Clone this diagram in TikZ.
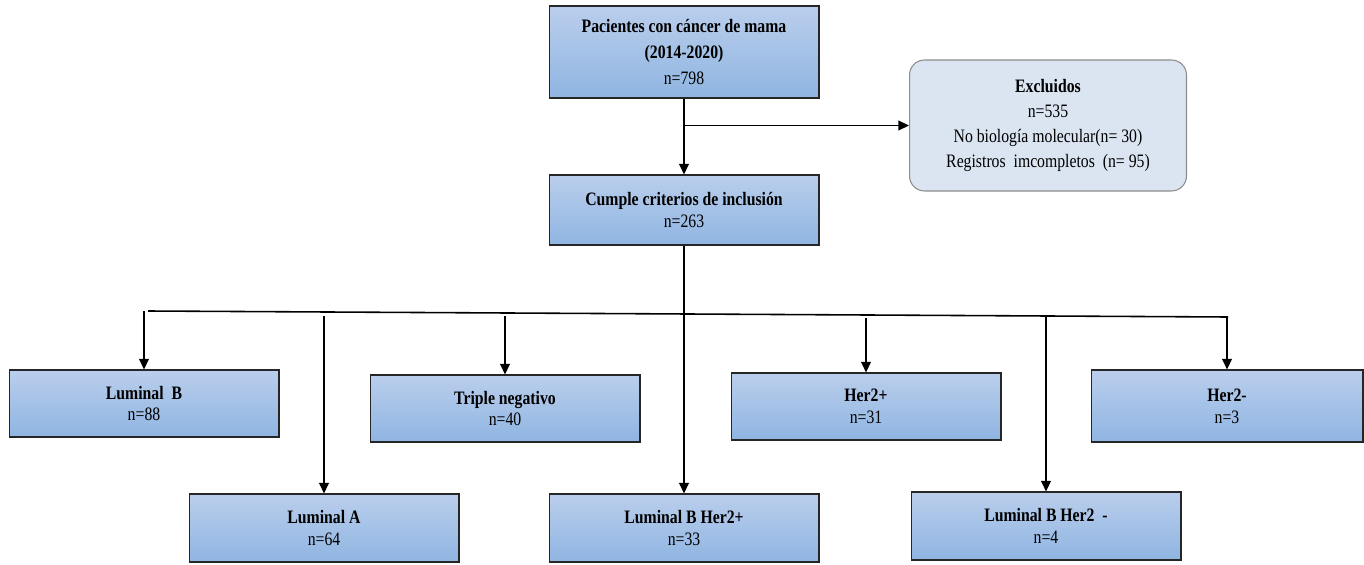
\documentclass[tikz,border=0pt]{standalone}
\usepackage{fontspec}
\setmainfont[FakeStretch=0.83]{Liberation Serif}
\usetikzlibrary{arrows.meta}
\definecolor{azulA}{RGB}{186,206,236}
\definecolor{azulB}{RGB}{143,181,226}
\definecolor{azulC}{RGB}{219,229,242}
\definecolor{grisB}{RGB}{140,140,140}
\tikzset{
	caja/.style={draw=black!85,line width=0.6pt,top color=azulA,bottom color=azulB,
		minimum width=5.4cm,minimum height=1.34cm,align=center,inner sep=2pt,
		font=\fontsize{10.8}{12.5}\selectfont},
	cajaex/.style={draw=grisB,line width=0.6pt,fill=azulC,rounded corners=0.3cm,
		minimum width=5.54cm,minimum height=2.62cm,align=center,
		font=\fontsize{10.8}{14.2}\selectfont},
	flecha/.style={line width=0.9pt,-{Triangle[length=6pt,width=5.5pt]}},
	linea/.style={line width=0.9pt}
}
\begin{document}
\begin{tikzpicture}[x=0.02cm,y=-0.02cm]
				\useasboundingbox (0,0) rectangle (1364,564);
				% nodos
				\node[caja,minimum height=1.84cm,font=\fontsize{10.8}{14.7}\selectfont] (inicio) at (684,52)
					{\textbf{Pacientes con cáncer de mama}\\\textbf{(2014-2020)}\\n=798};
				\node[cajaex] (excl) at (1048,125.5)
					{\textbf{Excluidos}\\n=535\\No biología molecular(n= 30)\\Registros\ \ imcompletos\ \ (n= 95)};
				\node[caja,minimum height=1.4cm] (cumple) at (684,210) {\textbf{Cumple criterios de inclusión}\\n=263};
				\node[caja] (lumB) at (144,403.5) {\textbf{Luminal\ \ B}\\n=88};
				\node[caja] (triple) at (505,408.5) {\textbf{Triple negativo}\\n=40};
				\node[caja] (her2p) at (866,406.5) {\textbf{Her2+}\\n=31};
				\node[caja,minimum width=5.44cm,minimum height=1.44cm] (her2m) at (1227,406) {\textbf{Her2-}\\n=3};
				\node[caja,minimum height=1.36cm] (lumA) at (324,528) {\textbf{Luminal A}\\n=64};
				\node[caja,minimum height=1.36cm] (lbh2p) at (684,528) {\textbf{Luminal B Her2+}\\n=33};
				\node[caja,minimum height=1.36cm] (lbh2m) at (1046,526) {\textbf{Luminal B Her2\ \ -}\\n=4};
				% conectores
				\draw[flecha] (inicio) -- (cumple);
				\draw[flecha] (inicio.south |- excl.west) -- (excl.west);
				\draw[flecha] (cumple) -- (lbh2p);
				\coordinate (busL) at (148,311);
				\coordinate (busR) at (1228,317);
				\draw[linea] (busL) -- (busR);
				\foreach \n/\y in {lumB/311,lumA/316,triple/316,her2p/318,lbh2m/317,her2m/317}
					\draw[flecha] (\n.north |- 0,\y) -- (\n.north);
			\end{tikzpicture}
\end{document}
